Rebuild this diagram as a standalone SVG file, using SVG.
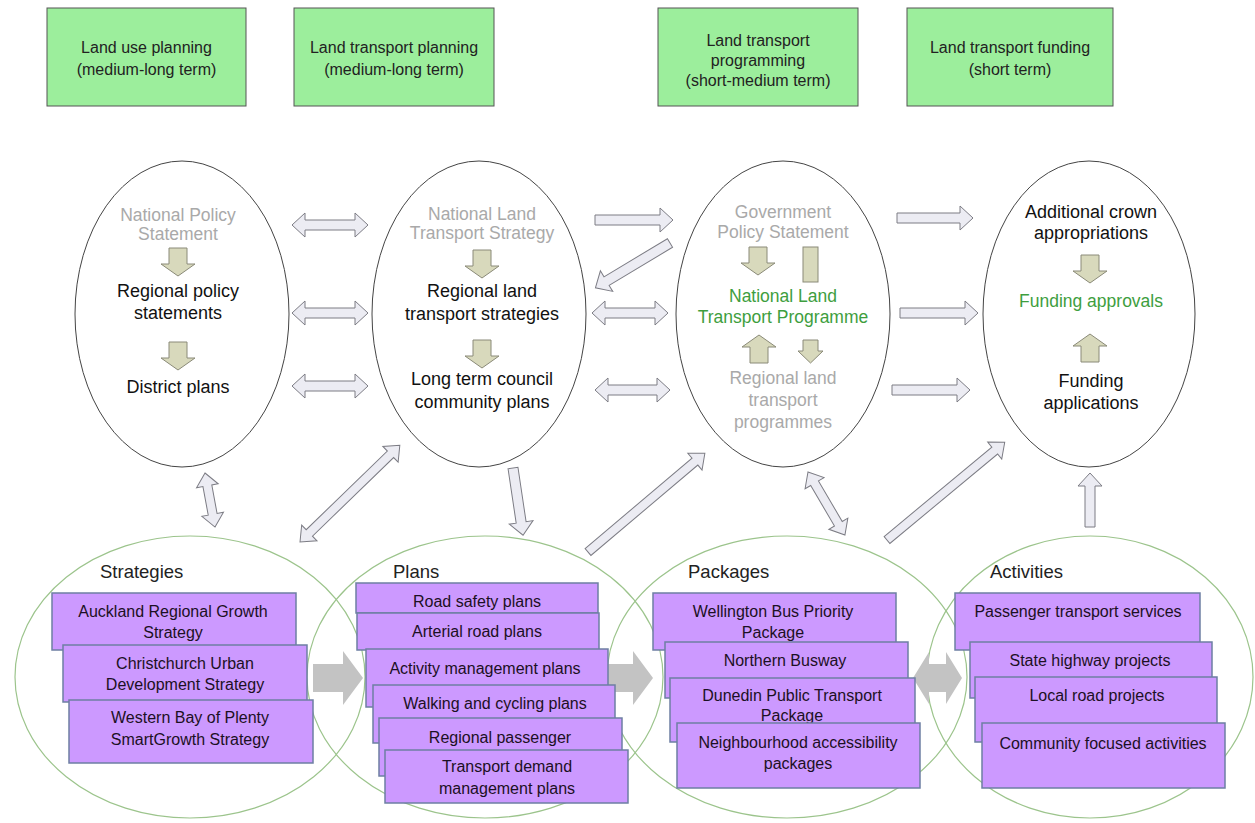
<svg xmlns="http://www.w3.org/2000/svg" width="1255" height="823" viewBox="0 0 1255 823">
<style>
text{font-family:"Liberation Sans",Arial,sans-serif;text-anchor:middle}
.hdr{fill:#9cee9c;stroke:#555;stroke-width:1}
.ht{font-size:16px;fill:#222}
.ell{fill:#fff;stroke:#444;stroke-width:1}
.gr{font-size:17.5px;fill:#a9a9a9}
.bk{font-size:18px;fill:#111}
.gn{font-size:17.5px;fill:#3e9e3e}
.beige{fill:#d8d9bc;stroke:#8a8a78;stroke-width:1}
.lav{fill:#ececf3;stroke:#7c7c84;stroke-width:1}
.gell{fill:none;stroke:#9cc48c;stroke-width:1.2}
.fat{fill:#c3c3c3}
.pb{fill:#cc99ff;stroke:#6d7fa3;stroke-width:1.5}
.pt{font-size:16px;fill:#1c1024}
.lbl{font-size:18.5px;fill:#222;text-anchor:start}
</style>
<defs>
<path id="dn" class="beige" d="M-9,0 H9 V16 H17 L0,28 L-17,16 H-9 Z"/>
</defs>

<g id="header-land-use"><rect class="hdr" x="47" y="8" width="199" height="98"/><text class="ht" x="146.5" y="53">Land use planning</text><text class="ht" x="146.5" y="75">(medium-long term)</text></g>
<g id="header-land-transport-planning"><rect class="hdr" x="294" y="8" width="200" height="98"/><text class="ht" x="394" y="53">Land transport planning</text><text class="ht" x="394" y="75">(medium-long term)</text></g>
<g id="header-programming"><rect class="hdr" x="658" y="8" width="200" height="98"/><text class="ht" x="758" y="46">Land transport</text><text class="ht" x="758" y="66">programming</text><text class="ht" x="758" y="86">(short-medium term)</text></g>
<g id="header-funding"><rect class="hdr" x="907" y="8" width="206" height="98"/><text class="ht" x="1010" y="53">Land transport funding</text><text class="ht" x="1010" y="75">(short term)</text></g>

<g id="ellipse-land-use">
<ellipse class="ell" cx="182" cy="314" rx="107" ry="153"/>
<text class="gr" x="178" y="221">National Policy</text><text class="gr" x="178" y="240">Statement</text>
<use href="#dn" x="178" y="248"/>
<text class="bk" x="178" y="297">Regional policy</text><text class="bk" x="178" y="319">statements</text>
<use href="#dn" x="178" y="342"/>
<text class="bk" x="178" y="393">District plans</text>
</g>

<g id="ellipse-land-transport-planning">
<ellipse class="ell" cx="479" cy="314" rx="107" ry="153"/>
<text class="gr" x="482" y="220">National Land</text><text class="gr" x="482" y="239">Transport Strategy</text>
<use href="#dn" x="482" y="250"/>
<text class="bk" x="482" y="297">Regional land</text><text class="bk" x="482" y="320">transport strategies</text>
<use href="#dn" x="482" y="340"/>
<text class="bk" x="482" y="385">Long term council</text><text class="bk" x="482" y="408">community plans</text>
</g>

<g id="ellipse-programming">
<ellipse class="ell" cx="783" cy="314" rx="107" ry="153"/>
<text class="gr" x="783" y="218">Government</text><text class="gr" x="783" y="238">Policy Statement</text>
<use href="#dn" x="758" y="247"/>
<rect class="beige" x="803" y="247" width="15" height="35"/>
<text class="gn" x="783" y="302">National Land</text><text class="gn" x="783" y="323">Transport Programme</text>
<use href="#dn" transform="translate(759,363) scale(1,-1)"/>
<path class="beige" d="M803,340 H818 V351 H823 L810.5,363 L798,351 H803 Z"/>
<text class="gr" x="783" y="384">Regional land</text><text class="gr" x="783" y="406">transport</text><text class="gr" x="783" y="428">programmes</text>
</g>

<g id="ellipse-funding">
<ellipse class="ell" cx="1089" cy="314" rx="106" ry="153"/>
<text class="bk" x="1091" y="218">Additional crown</text><text class="bk" x="1091" y="239">appropriations</text>
<use href="#dn" x="1090" y="255"/>
<text class="gn" x="1091" y="307">Funding approvals</text>
<use href="#dn" transform="translate(1090,362) scale(1,-1)"/>
<text class="bk" x="1091" y="387">Funding</text><text class="bk" x="1091" y="409">applications</text>
</g>

<g id="bottom-ellipses">
<ellipse id="strategies-ring" class="gell" cx="190" cy="677" rx="175" ry="141"/>
<ellipse id="plans-ring" class="gell" cx="485" cy="677" rx="178" ry="141"/>
<ellipse id="packages-ring" class="gell" cx="787" cy="677" rx="180" ry="141"/>
<ellipse id="activities-ring" class="gell" cx="1090" cy="677" rx="163" ry="141"/>
</g>

<g id="connectors">
<polygon class="lav" points="292,225 305,213 305,220 355,220 355,213 368,225 355,237 355,230 305,230 305,237"/>
<polygon class="lav" points="292,313 305,301 305,308 355,308 355,301 368,313 355,325 355,318 305,318 305,325"/>
<polygon class="lav" points="292,386 305,374 305,381 355,381 355,374 368,386 355,398 355,391 305,391 305,398"/>
<polygon class="lav" points="595,215 660,215 660,208 673,220 660,232 660,225 595,225"/>
<polygon class="lav" transform="translate(670,243) rotate(149)" points="0,-5 74,-5 74,-12 87,0 74,12 74,5 0,5"/>
<polygon class="lav" points="592,313 605,301 605,308 655,308 655,301 668,313 655,325 655,318 605,318 605,325"/>
<polygon class="lav" points="595,390 608,378 608,385 657,385 657,378 670,390 657,402 657,395 608,395 608,402"/>
<polygon class="lav" points="897,213 960,213 960,206 973,218 960,230 960,223 897,223"/>
<polygon class="lav" points="900,308 965,308 965,301 978,313 965,325 965,318 900,318"/>
<polygon class="lav" points="892,385 957,385 957,378 970,390 957,402 957,395 892,395"/>
<polygon class="lav" transform="translate(205,473) rotate(79.5)" points="0,0 13,-11 13,-4.5 42,-4.5 42,-11 55,0 42,11 42,4.5 13,4.5 13,11"/>
<polygon class="lav" transform="translate(300,542) rotate(-44.1)" points="0,0 13,-11 13,-4.5 126,-4.5 126,-11 139,0 126,11 126,4.5 13,4.5 13,11"/>
<polygon class="lav" transform="translate(513,468) rotate(81.5)" points="0,-5 55,-5 55,-12 68,0 55,12 55,5 0,5"/>
<polygon class="lav" transform="translate(588,552) rotate(-40.2)" points="0,-4.5 140,-4.5 140,-11 153,0 140,11 140,4.5 0,4.5"/>
<polygon class="lav" transform="translate(808,472) rotate(59.6)" points="0,0 13,-11 13,-4.5 60,-4.5 60,-11 73,0 60,11 60,4.5 13,4.5 13,11"/>
<polygon class="lav" transform="translate(887,540) rotate(-39.7)" points="0,-4.5 140,-4.5 140,-11 153,0 140,11 140,4.5 0,4.5"/>
<polygon class="lav" transform="translate(1090,527) rotate(-90)" points="0,-5 41,-5 41,-12 54,0 41,12 41,5 0,5"/>
<polygon class="fat" points="313,664 343,664 343,651 363,678 343,705 343,692 313,692"/>
<polygon class="fat" points="607,664 633,664 633,651 653,678 633,705 633,692 607,692"/>
<polygon class="fat" points="913,678 929,652 929,664 946,664 946,652 962,678 946,704 946,692 929,692 929,704"/>
</g>

<g id="strategies">
<text class="lbl" x="100" y="578">Strategies</text>
<g id="auckland"><rect class="pb" x="52" y="593" width="244" height="57"/><text class="pt" x="173" y="617">Auckland Regional Growth</text><text class="pt" x="173" y="638">Strategy</text></g>
<g id="christchurch"><rect class="pb" x="63" y="645" width="244" height="57"/><text class="pt" x="185" y="669">Christchurch Urban</text><text class="pt" x="185" y="690">Development Strategy</text></g>
<g id="western-bay"><rect class="pb" x="69" y="700" width="244" height="63"/><text class="pt" x="190" y="723">Western Bay of Plenty</text><text class="pt" x="190" y="745">SmartGrowth Strategy</text></g>
</g>

<g id="plans">
<text class="lbl" x="393" y="578">Plans</text>
<g id="road-safety"><rect class="pb" x="356" y="583" width="242" height="30"/><text class="pt" x="477" y="607">Road safety plans</text></g>
<g id="arterial"><rect class="pb" x="357" y="613" width="242" height="37"/><text class="pt" x="477" y="637">Arterial road plans</text></g>
<g id="activity-mgmt"><rect class="pb" x="366" y="649" width="242" height="58"/><text class="pt" x="485" y="674">Activity management plans</text></g>
<g id="walking"><rect class="pb" x="373" y="685" width="242" height="58"/><text class="pt" x="495" y="709">Walking and cycling plans</text></g>
<g id="regional-passenger"><rect class="pb" x="379" y="718" width="243" height="58"/><text class="pt" x="500" y="743">Regional passenger</text></g>
<g id="tdm"><rect class="pb" x="385" y="750" width="243" height="53"/><text class="pt" x="507" y="772">Transport demand</text><text class="pt" x="507" y="794">management plans</text></g>
</g>

<g id="packages">
<text class="lbl" x="688" y="578">Packages</text>
<g id="wellington"><rect class="pb" x="653" y="593" width="243" height="57"/><text class="pt" x="773" y="617">Wellington Bus Priority</text><text class="pt" x="773" y="638">Package</text></g>
<g id="northern"><rect class="pb" x="665" y="642" width="243" height="56"/><text class="pt" x="785" y="666">Northern Busway</text></g>
<g id="dunedin"><rect class="pb" x="670" y="678" width="245" height="64"/><text class="pt" x="792" y="701">Dunedin Public Transport</text><text class="pt" x="792" y="721">Package</text></g>
<g id="neighbourhood"><rect class="pb" x="677" y="723" width="243" height="65"/><text class="pt" x="798" y="748">Neighbourhood accessibility</text><text class="pt" x="798" y="769">packages</text></g>
</g>

<g id="activities">
<text class="lbl" x="990" y="578">Activities</text>
<g id="passenger"><rect class="pb" x="955" y="593" width="245" height="57"/><text class="pt" x="1078" y="617">Passenger transport services</text></g>
<g id="state-highway"><rect class="pb" x="970" y="642" width="242" height="56"/><text class="pt" x="1090" y="666">State highway projects</text></g>
<g id="local-road"><rect class="pb" x="975" y="677" width="242" height="65"/><text class="pt" x="1097" y="701">Local road projects</text></g>
<g id="community"><rect class="pb" x="982" y="723" width="243" height="65"/><text class="pt" x="1103" y="749">Community focused activities</text></g>
</g>
</svg>
